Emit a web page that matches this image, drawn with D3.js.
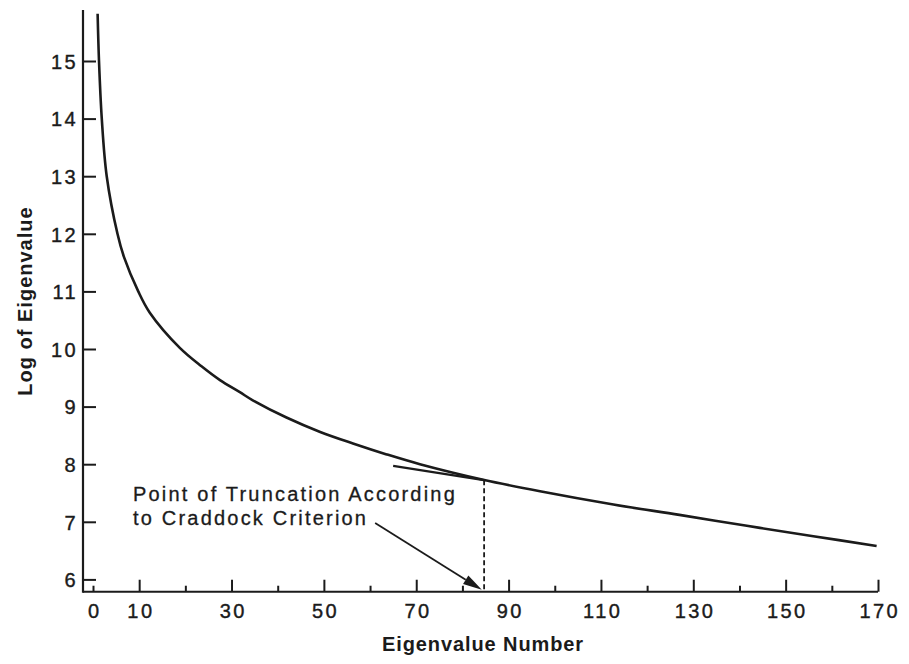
<!DOCTYPE html>
<html>
<head>
<meta charset="utf-8">
<script src="https://cdn.jsdelivr.net/npm/d3@7"></script>
<style>
  body { margin: 0; background: #fff; }
  text { font-family: "Liberation Sans", Arial, sans-serif; fill: #1b1b1b; }
</style>
</head>
<body>
<div id="vis"></div>
<script>
// valores (numero de autovalor, log del autovalor)
const eigenNumber = [1.0, 1.3, 1.9, 2.97, 5.3, 6.7, 9.8, 12.3, 18.8, 23.5, 27.5, 31.8, 34.6, 41.9,
  49.2, 56.3, 63.6, 70.8, 84.5, 96.8, 112.7, 127.0, 141.6, 156.0, 169.7];
const logEigen = [15.82, 15.0, 14.0, 13.0, 12.0, 11.6, 11.0, 10.63, 10.02, 9.70, 9.46, 9.25, 9.11, 8.81,
  8.56, 8.36, 8.17, 8.00, 7.73, 7.53, 7.30, 7.12, 6.93, 6.75, 6.58];

const xTicks = [0, 10, 20, 30, 40, 50, 60, 70, 80, 90, 100, 110, 120, 130, 140, 150, 160, 170];
const xLabels = ["0", "10", "", "30", "", "50", "", "70", "", "90", "", "110", "", "130", "", "150", "", "170"];
const yTicks = [6, 7, 8, 9, 10, 11, 12, 13, 14, 15];

// linea tangente y punto de truncamiento (Craddock)
const tangentX = [65, 85];
const tangentY = [7.97, 7.72];
const truncation = 84.7;
const arrowFrom = [61.1, 6.98];
const arrowTo = [84.2, 5.82];
const noteLines = ["Point of Truncation According", "to Craddock Criterion"];

function createVis(rute) {
  const SVG = d3.select(rute)
    .append("svg")
    .attr("width", 909)
    .attr("height", 664);

  const ink = "#1b1b1b";

  const escalaX = d3.scaleLinear()
    .domain([0, 170])
    .range([93, 878]);

  const escalaY = d3.scaleLinear()
    .domain([6, 15])
    .range([579.4, 61]);

  const yBottom = 5.786, yTop = 15.885, xLeft = escalaX.invert(83);

  // eje X
  const ejeX = SVG.append("g")
    .attr("transform", `translate(0, ${escalaY(yBottom)})`)
    .call(d3.axisBottom(escalaX)
      .tickValues(xTicks)
      .tickFormat((d, i) => xLabels[i])
      .tickSize(-12)
      .tickPadding(12));
  ejeX.select(".domain").remove();
  ejeX.selectAll(".tick line")
    .attr("stroke", ink)
    .attr("stroke-width", 2)
    .attr("y2", d => (d % 20 === 10 ? -12 : -6));
  ejeX.selectAll(".tick text")
    .style("font-size", "20px")
    .style("letter-spacing", "2.4px")
    .attr("stroke", ink)
    .attr("stroke-width", 0.4)
    .attr("dx", "1.2px");

  // eje Y
  const ejeY = SVG.append("g")
    .attr("transform", `translate(83, 0)`)
    .call(d3.axisLeft(escalaY)
      .tickValues(yTicks)
      .tickSize(-13)
      .tickPadding(5));
  ejeY.select(".domain").remove();
  ejeY.selectAll(".tick line")
    .attr("stroke", ink)
    .attr("stroke-width", 2);
  ejeY.selectAll(".tick text")
    .style("font-size", "20px")
    .style("letter-spacing", "2.4px")
    .attr("stroke", ink)
    .attr("stroke-width", 0.4)
    .attr("dy", "0.36em");

  // lineas de los ejes
  SVG.append("line")
    .attr("x1", escalaX(xLeft)).attr("x2", escalaX(170))
    .attr("y1", escalaY(yBottom)).attr("y2", escalaY(yBottom))
    .attr("stroke", ink).attr("stroke-width", 2.2);
  SVG.append("line")
    .attr("x1", escalaX(xLeft)).attr("x2", escalaX(xLeft))
    .attr("y1", escalaY(yBottom) + 1).attr("y2", escalaY(yTop))
    .attr("stroke", ink).attr("stroke-width", 2.2);

  // curva
  const datos = eigenNumber.map((d, i) => ({ x: d, y: logEigen[i] }));
  const linea = d3.line()
    .x(d => escalaX(d.x))
    .y(d => escalaY(d.y))
    .curve(d3.curveCatmullRom.alpha(0.5));
  SVG.append("path")
    .datum(datos)
    .attr("d", linea)
    .attr("fill", "none")
    .attr("stroke", ink)
    .attr("stroke-width", 2.6);

  // tangente
  SVG.append("line")
    .attr("x1", escalaX(tangentX[0])).attr("y1", escalaY(tangentY[0]))
    .attr("x2", escalaX(tangentX[1])).attr("y2", escalaY(tangentY[1]))
    .attr("stroke", ink).attr("stroke-width", 2.2);

  // linea punteada
  SVG.append("line")
    .attr("x1", escalaX(truncation)).attr("x2", escalaX(truncation))
    .attr("y1", escalaY(7.72)).attr("y2", escalaY(yBottom))
    .attr("stroke", ink).attr("stroke-width", 1.8)
    .attr("stroke-dasharray", "5,3");

  // flecha
  const x0 = escalaX(arrowFrom[0]), y0 = escalaY(arrowFrom[1]);
  const x1 = escalaX(arrowTo[0]), y1 = escalaY(arrowTo[1]);
  const ang = Math.atan2(y1 - y0, x1 - x0);
  const largo = 19, ancho = 5;
  const bx = x1 - largo * Math.cos(ang), by = y1 - largo * Math.sin(ang);
  SVG.append("line")
    .attr("x1", x0).attr("y1", y0)
    .attr("x2", bx).attr("y2", by)
    .attr("stroke", ink).attr("stroke-width", 1.8);
  SVG.append("path")
    .attr("d", `M${x1},${y1}L${bx + ancho * Math.sin(ang)},${by - ancho * Math.cos(ang)}` +
      `L${bx - ancho * Math.sin(ang)},${by + ancho * Math.cos(ang)}Z`)
    .attr("fill", ink);

  // texto de la nota
  SVG.append("g")
    .selectAll("text")
    .data(noteLines)
    .join("text")
    .attr("x", 133)
    .attr("y", (d, i) => 500.5 + i * 24.5)
    .style("font-size", "20px")
    .style("letter-spacing", "2.2px")
    .attr("stroke", ink)
    .attr("stroke-width", 0.3)
    .text(d => d);

  // titulos
  SVG.append("text")
    .attr("x", 483)
    .attr("y", 651)
    .attr("text-anchor", "middle")
    .style("font-size", "20px")
    .style("font-weight", "bold")
    .style("letter-spacing", "0.9px")
    .text("Eigenvalue Number");

  SVG.append("text")
    .attr("transform", "translate(32, 301) rotate(-90)")
    .attr("text-anchor", "middle")
    .style("font-size", "20px")
    .style("font-weight", "bold")
    .style("letter-spacing", "1px")
    .text("Log of Eigenvalue");
}

createVis("#vis");
</script>
</body>
</html>
